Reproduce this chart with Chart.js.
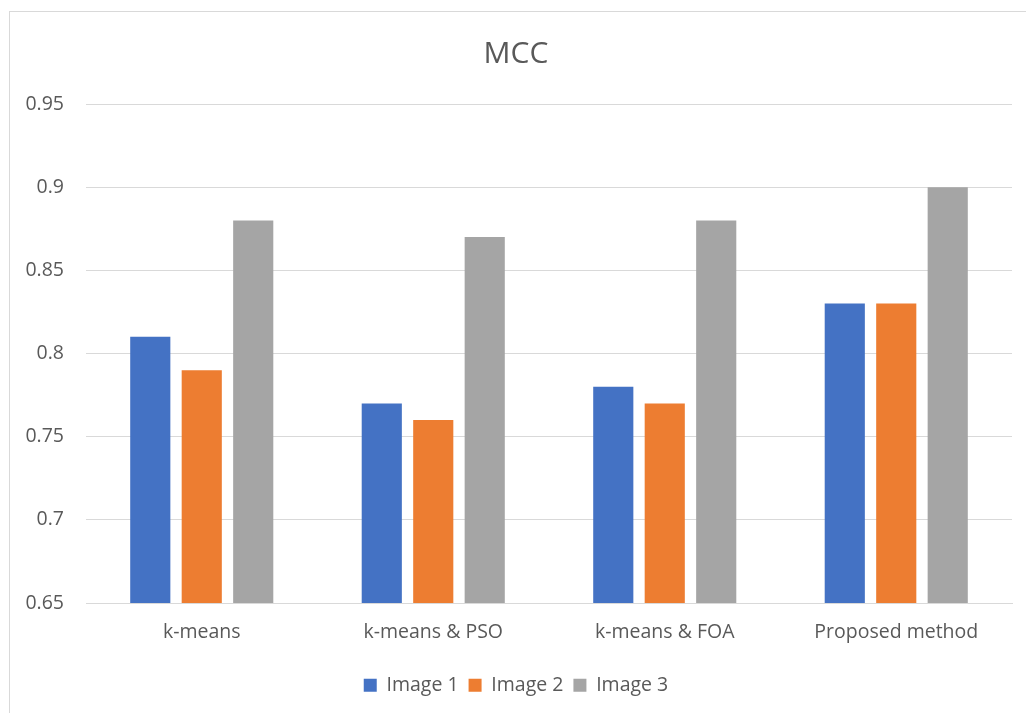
<!DOCTYPE html>
<html>
<head>
<meta charset="utf-8">
<script src="https://cdn.jsdelivr.net/npm/chart.js@4"></script>
<style>
  html, body { margin: 0; padding: 0; background: #fff; overflow: hidden; }
  #wrap { position: relative; width: 1026px; height: 713px; }
  #frame { position: absolute; left: 9px; top: 11px; width: 1040px; height: 720px; border: 1px solid #d9d9d9; }
  #mcc { position: absolute; left: 0; top: 0; }
</style>
</head>
<body>
<div id="wrap">
  <div id="frame"></div>
  <canvas id="mcc" width="1026" height="713"></canvas>
</div>
<script>
  const categories = ["k-means", "k-means & PSO", "k-means & FOA", "Proposed method"];
  const image1 = [0.81, 0.77, 0.78, 0.83];
  const image2 = [0.79, 0.76, 0.77, 0.83];
  const image3 = [0.88, 0.87, 0.88, 0.90];
  const yTicks = [0.65, 0.7, 0.75, 0.8, 0.85, 0.9, 0.95];

  const textColor = "#595959";
  const gridColor = "#d9d9d9";
  Chart.defaults.font.family = "'Open Sans', 'Noto Sans', sans-serif";
  Chart.defaults.color = textColor;

  const bar = (label, data, color) => ({
    label,
    data,
    backgroundColor: color,
    categoryPercentage: 0.667,
    barPercentage: 0.78,
  });

  new Chart(document.getElementById("mcc"), {
    type: "bar",
    data: {
      labels: categories,
      datasets: [
        bar("Image 1", image1, "#4472C4"),
        bar("Image 2", image2, "#ED7D31"),
        bar("Image 3", image3, "#A5A5A5"),
      ],
    },
    options: {
      responsive: false,
      animation: false,
      layout: { padding: { left: 20, right: 14, top: 10, bottom: 8 } },
      plugins: {
        title: {
          display: true,
          text: "MCC",
          color: textColor,
          font: { size: 30, weight: "normal" },
          padding: { top: 26, bottom: 32 },
        },
        legend: {
          position: "bottom",
          labels: { boxWidth: 13, boxHeight: 13, padding: 10, font: { size: 19.5 }, color: textColor },
        },
        tooltip: { enabled: false },
      },
      scales: {
        y: {
          min: yTicks[0],
          max: yTicks[yTicks.length - 1],
          afterFit: (s) => { s.width = 66; },
          afterBuildTicks: (s) => { s.ticks = yTicks.map((v) => ({ value: v })); },
          ticks: {
            padding: 22,
            font: { size: 19.5 },
            color: textColor,
            callback: (v) => String(Number(v.toFixed(2))),
          },
          grid: { color: gridColor, drawTicks: false },
          border: { display: false },
        },
        x: {
          afterFit: (s) => { s.height = 62.5; },
          ticks: { padding: 18, font: { size: 19.5 }, color: textColor },
          grid: { display: false, drawTicks: false },
          border: { color: gridColor },
        },
      },
    },
  });
</script>
</body>
</html>
